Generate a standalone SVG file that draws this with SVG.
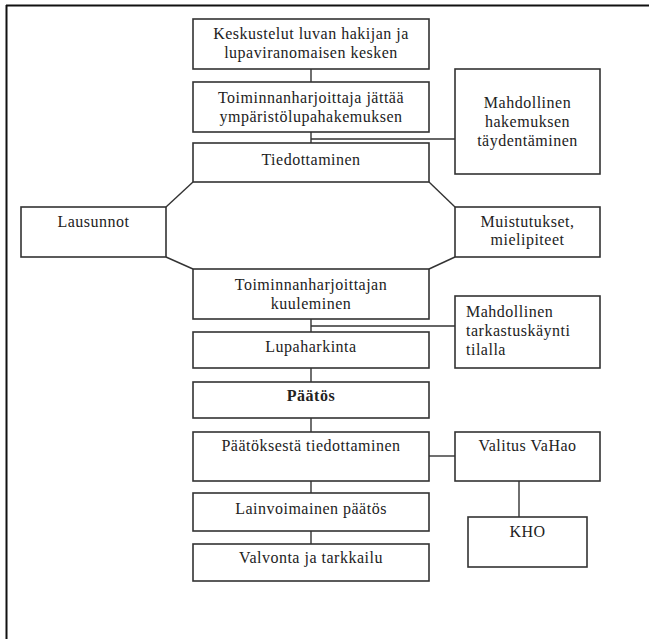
<svg xmlns="http://www.w3.org/2000/svg" width="649" height="639" viewBox="0 0 649 639">
<style>
.box{fill:#fff;stroke:#333;stroke-width:1.6}
.ln{fill:none;stroke:#333;stroke-width:1.4}
text{font-family:"Liberation Serif","Times New Roman",serif;font-size:16px;fill:#222;letter-spacing:0.5px}
.c{text-anchor:middle}
.b{font-weight:bold}
</style>
<rect x="0" y="0" width="649" height="639" fill="#fff"/>
<g id="frame">
<line x1="6" y1="5.5" x2="649" y2="5.5" stroke="#111" stroke-width="2"/>
<line x1="6.5" y1="5" x2="6.5" y2="639" stroke="#111" stroke-width="2"/>
</g>
<g id="connectors">
<line class="ln" x1="311" y1="69" x2="311" y2="82"/>
<line class="ln" x1="311" y1="132" x2="311" y2="143"/>
<line class="ln" x1="311" y1="139" x2="455" y2="139"/>
<line class="ln" x1="193" y1="182" x2="166" y2="207"/>
<line class="ln" x1="429" y1="182" x2="455" y2="207"/>
<line class="ln" x1="166" y1="257" x2="193" y2="269"/>
<line class="ln" x1="455" y1="257" x2="429" y2="269"/>
<line class="ln" x1="311" y1="319" x2="311" y2="332"/>
<line class="ln" x1="311" y1="326" x2="455" y2="326"/>
<line class="ln" x1="311" y1="368" x2="311" y2="382"/>
<line class="ln" x1="311" y1="418" x2="311" y2="432"/>
<line class="ln" x1="311" y1="481" x2="311" y2="493"/>
<line class="ln" x1="311" y1="531" x2="311" y2="544"/>
<line class="ln" x1="429" y1="456" x2="455" y2="456"/>
<line class="ln" x1="519" y1="481" x2="519" y2="517"/>
</g>
<g id="n1"><rect class="box" x="193" y="19" width="236" height="50"/><text class="c" x="311" y="38.5">Keskustelut luvan hakijan ja</text><text class="c" x="311" y="58">lupaviranomaisen kesken</text></g>
<g id="n2"><rect class="box" x="193" y="82" width="236" height="50"/><text class="c" x="311" y="103">Toiminnanharjoittaja jättää</text><text class="c" x="311" y="122">ympäristölupahakemuksen</text></g>
<g id="n3"><rect class="box" x="193" y="143" width="236" height="39"/><text class="c" x="311" y="165">Tiedottaminen</text></g>
<g id="n4"><rect class="box" x="455" y="69" width="145" height="105"/><text class="c" x="527.5" y="108">Mahdollinen</text><text class="c" x="527.5" y="127">hakemuksen</text><text class="c" x="527.5" y="146">täydentäminen</text></g>
<g id="n5"><rect class="box" x="21" y="207" width="145" height="50"/><text class="c" x="93.5" y="227">Lausunnot</text></g>
<g id="n6"><rect class="box" x="455" y="207" width="145" height="50"/><text class="c" x="527.5" y="227">Muistutukset,</text><text class="c" x="527.5" y="245">mielipiteet</text></g>
<g id="n7"><rect class="box" x="193" y="269" width="236" height="50"/><text class="c" x="311" y="290">Toiminnanharjoittajan</text><text class="c" x="311" y="309">kuuleminen</text></g>
<g id="n8"><rect class="box" x="455" y="296" width="145" height="72"/><text x="466" y="317">Mahdollinen</text><text x="466" y="336">tarkastuskäynti</text><text x="466" y="355">tilalla</text></g>
<g id="n9"><rect class="box" x="193" y="332" width="236" height="36"/><text class="c" x="311" y="352">Lupaharkinta</text></g>
<g id="n10"><rect class="box" x="193" y="382" width="236" height="36"/><text class="c b" x="311" y="401">Päätös</text></g>
<g id="n11"><rect class="box" x="193" y="432" width="236" height="49"/><text class="c" x="311" y="451">Päätöksestä tiedottaminen</text></g>
<g id="n12"><rect class="box" x="455" y="432" width="145" height="49"/><text class="c" x="527.5" y="451">Valitus VaHao</text></g>
<g id="n13"><rect class="box" x="468" y="517" width="119" height="50"/><text class="c" x="527.5" y="537">KHO</text></g>
<g id="n14"><rect class="box" x="193" y="493" width="236" height="38"/><text class="c" x="311" y="514">Lainvoimainen päätös</text></g>
<g id="n15"><rect class="box" x="193" y="544" width="236" height="37"/><text class="c" x="311" y="563">Valvonta ja tarkkailu</text></g>
</svg>
